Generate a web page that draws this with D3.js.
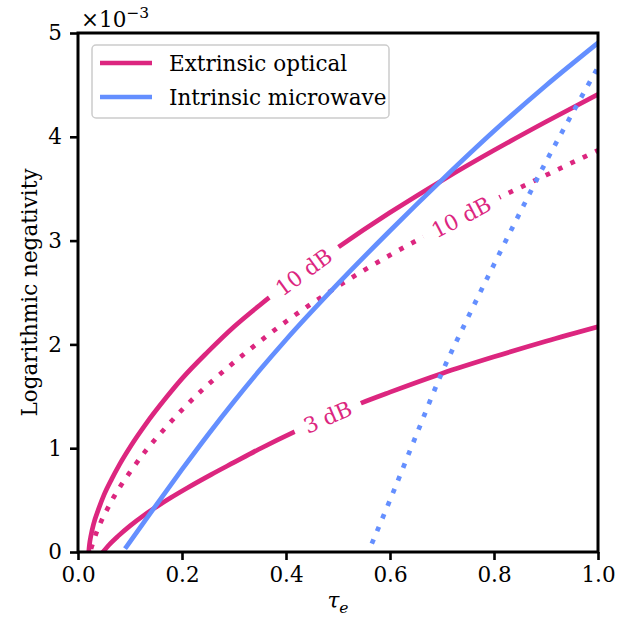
<!DOCTYPE html>
<html>
<head>
<meta charset="utf-8">
<script src="https://cdn.jsdelivr.net/npm/d3@7/dist/d3.min.js"></script>
<style>
  body { margin: 0; background: #fff; }
  svg text { font-family: "DejaVu Serif", serif; }
</style>
</head>
<body>
<div id="chart"></div>
<script>
// ---- data (y in units of 1e-3) ----
const xTicks = [0, 0.2, 0.4, 0.6, 0.8, 1.0];
const yTicks = [0, 1, 2, 3, 4, 5];

const ext10X = [0.021, 0.022, 0.025, 0.03, 0.04, 0.05, 0.065, 0.08, 0.1, 0.13, 0.17, 0.2, 0.25, 0.3, 0.35, 0.4, 0.5, 0.6, 0.7, 0.8, 0.9, 1.0];
const ext10Y = [0.02, 0.07, 0.16, 0.27, 0.42, 0.55, 0.705, 0.845, 1.01, 1.23, 1.49, 1.67, 1.93, 2.17, 2.38, 2.575, 2.935, 3.27, 3.58, 3.87, 4.145, 4.41];

const ext10DotX = [0.025, 0.035, 0.045, 0.056, 0.07, 0.083, 0.1, 0.131, 0.167, 0.204, 0.243, 0.284, 0.325, 0.368, 0.4, 0.5, 0.6, 0.7, 0.8, 0.9, 1.0];
const ext10DotY = [0.03, 0.18, 0.30, 0.41, 0.54, 0.645, 0.77, 0.98, 1.19, 1.39, 1.58, 1.76, 1.93, 2.10, 2.22, 2.56, 2.86, 3.13, 3.39, 3.63, 3.87];

const ext3X = [0.048, 0.06, 0.077, 0.1, 0.128, 0.154, 0.179, 0.21, 0.256, 0.3, 0.346, 0.417, 0.48, 0.542, 0.6, 0.7, 0.8, 0.9, 1.0];
const ext3Y = [0.0, 0.07, 0.153, 0.252, 0.358, 0.446, 0.525, 0.617, 0.746, 0.863, 0.985, 1.16, 1.30, 1.43, 1.54, 1.72, 1.88, 2.03, 2.17];

const intX = [0.093, 0.15, 0.2, 0.25, 0.3, 0.35, 0.4, 0.5, 0.6, 0.7, 0.8, 0.9, 1.0];
const intY = [0.05, 0.45, 0.795, 1.13, 1.45, 1.755, 2.045, 2.585, 3.095, 3.585, 4.055, 4.495, 4.905];

const intDotX = [0.565, 0.6, 0.65, 0.7, 0.75, 0.8, 0.85, 0.9, 0.95, 1.0];
const intDotY = [0.08, 0.50, 1.12, 1.73, 2.26, 2.77, 3.27, 3.76, 4.22, 4.67];

const legendLabels = ['Extrinsic optical', 'Intrinsic microwave'];

// inline curve labels: text, which series, x at label centre
const curveLabels = [
  { text: '10 dB', series: 'ext10', x: 0.434 },
  { text: '10 dB', series: 'ext10Dot', x: 0.737 },
  { text: '3 dB', series: 'ext3', x: 0.48 },
];

const pink = '#DC267F';
const blue = '#648FFF';

const W = 633, H = 621;
const margin = { top: 33, right: 35, bottom: 69, left: 78 };
const fontSize = 21.5;

const svg = d3.select('#chart').append('svg')
  .attr('width', W).attr('height', H);

const x = d3.scaleLinear().domain([0, 1]).range([margin.left, W - margin.right]);
const y = d3.scaleLinear().domain([0, 5]).range([H - margin.bottom, margin.top]);

const series = [
  { key: 'ext10', xs: ext10X, ys: ext10Y, color: pink, dotted: false },
  { key: 'ext10Dot', xs: ext10DotX, ys: ext10DotY, color: pink, dotted: true },
  { key: 'ext3', xs: ext3X, ys: ext3Y, color: pink, dotted: false },
  { key: 'int', xs: intX, ys: intY, color: blue, dotted: false },
  { key: 'intDot', xs: intDotX, ys: intDotY, color: blue, dotted: true },
];

const line = d3.line()
  .x(d => x(d[0]))
  .y(d => y(d[1]))
  .curve(d3.curveMonotoneX);

const defs = svg.append('defs');
defs.append('clipPath').attr('id', 'plotClip')
  .append('rect')
  .attr('x', margin.left).attr('y', margin.top)
  .attr('width', x(1) - x(0)).attr('height', y(0) - y(5));

// label geometry (angle taken from the curve around the label)
const labelGeo = curveLabels.map(l => {
  const s = series.find(d => d.key === l.series);
  const interp = d3.scaleLinear().domain(s.xs).range(s.ys);
  const x0 = l.x - 0.05, x1 = l.x + 0.05;
  const angle = Math.atan2(y(interp(x1)) - y(interp(x0)), x(x1) - x(x0)) * 180 / Math.PI;
  return { ...l, cx: x(l.x), cy: y(interp(l.x)), angle };
});

// measure text widths for the gaps cut in the lines
const measure = svg.append('text').attr('font-size', fontSize).attr('opacity', 0);
labelGeo.forEach(l => {
  measure.text(l.text);
  l.w = measure.node().getComputedTextLength();
});
measure.remove();

series.forEach(s => {
  const labs = labelGeo.filter(l => l.series === s.key);
  if (!labs.length) return;
  const m = defs.append('mask').attr('id', 'mask-' + s.key)
    .attr('maskUnits', 'userSpaceOnUse')
    .attr('x', 0).attr('y', 0).attr('width', W).attr('height', H);
  m.append('rect').attr('x', 0).attr('y', 0).attr('width', W).attr('height', H).attr('fill', '#fff');
  labs.forEach(l => {
    const gw = l.w + 22;
    m.append('rect')
      .attr('x', -gw / 2).attr('y', -20).attr('width', gw).attr('height', 40)
      .attr('fill', '#000')
      .attr('transform', `translate(${l.cx},${l.cy}) rotate(${l.angle})`);
  });
});

const plot = svg.append('g').attr('clip-path', 'url(#plotClip)');

series.forEach(s => {
  const g = plot.append('g');
  if (labelGeo.some(l => l.series === s.key)) g.attr('mask', `url(#mask-${s.key})`);
  g.append('path')
    .datum(d3.zip(s.xs, s.ys))
    .attr('d', line)
    .attr('fill', 'none')
    .attr('stroke', s.color)
    .attr('stroke-width', 4.7)
    .attr('stroke-linecap', s.dotted ? 'butt' : 'square')
    .attr('stroke-dasharray', s.dotted ? '4.7,9' : null);
});

// inline labels
svg.append('g').selectAll('text')
  .data(labelGeo)
  .join('text')
  .attr('transform', d => `translate(${d.cx},${d.cy}) rotate(${d.angle})`)
  .attr('text-anchor', 'middle')
  .attr('dy', '0.36em')
  .attr('font-size', fontSize)
  .attr('fill', pink)
  .text(d => d.text);

// axes
const xAxis = d3.axisBottom(x).tickValues(xTicks).tickFormat(d3.format('.1f')).tickSize(8).tickPadding(7);
const yAxis = d3.axisLeft(y).tickValues(yTicks).tickFormat(d3.format('d')).tickSize(8).tickPadding(8);

const gx = svg.append('g').attr('transform', `translate(0,${y(0)})`).call(xAxis);
const gy = svg.append('g').attr('transform', `translate(${x(0)},0)`).call(yAxis);
[gx, gy].forEach(g => {
  g.attr('font-family', null).attr('font-size', null);
  g.select('.domain').remove();
  g.selectAll('.tick line').attr('stroke', '#000').attr('stroke-width', 2.6);
  g.selectAll('.tick text')
    .attr('fill', '#000')
    .attr('font-size', fontSize);
});

// frame
svg.append('rect')
  .attr('x', x(0)).attr('y', y(5))
  .attr('width', x(1) - x(0)).attr('height', y(0) - y(5))
  .attr('fill', 'none').attr('stroke', '#000').attr('stroke-width', 3);

// offset text
const off = svg.append('text').attr('x', 81).attr('y', 27).attr('font-size', fontSize);
off.append('tspan').text('×10');
off.append('tspan').attr('dy', -9).attr('font-size', 15.5).text('−3');

// axis labels
const xl = svg.append('text')
  .attr('x', x(0.5)).attr('y', 608)
  .attr('text-anchor', 'middle')
  .attr('font-size', fontSize)
  .attr('font-style', 'italic');
xl.append('tspan').text('τ');
xl.append('tspan').attr('dy', 5).attr('font-size', 15.5).text('e');

svg.append('text')
  .attr('transform', `translate(37,${(y(0) + y(5)) / 2}) rotate(-90)`)
  .attr('text-anchor', 'middle')
  .attr('font-size', fontSize)
  .text('Logarithmic negativity');

// legend
const lg = svg.append('g');
lg.append('rect')
  .attr('x', 92).attr('y', 45).attr('width', 297).attr('height', 73).attr('rx', 4)
  .attr('fill', '#fff').attr('fill-opacity', 0.8)
  .attr('stroke', '#cccccc').attr('stroke-width', 1.5);
const legendColors = [pink, blue];
legendLabels.forEach((t, i) => {
  const cy = 63 + i * 34;
  lg.append('line')
    .attr('x1', 100).attr('x2', 152).attr('y1', cy).attr('y2', cy)
    .attr('stroke', legendColors[i]).attr('stroke-width', 4.7);
  lg.append('text')
    .attr('x', 169).attr('y', cy).attr('dy', '0.36em')
    .attr('font-size', fontSize)
    .text(t);
});
</script>
</body>
</html>
